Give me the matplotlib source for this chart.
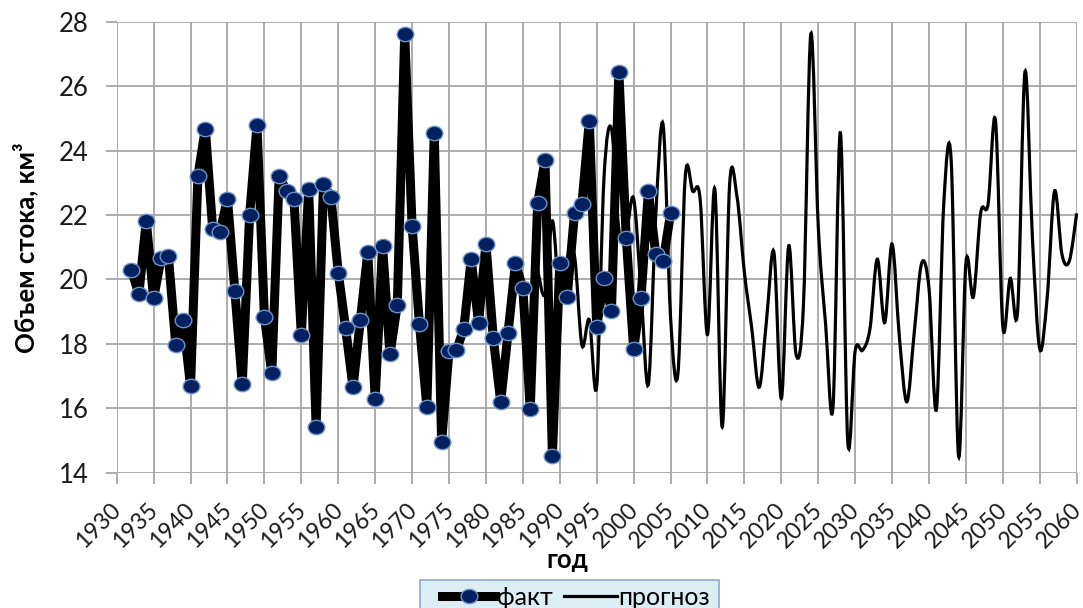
import matplotlib
matplotlib.use("Agg")
import matplotlib.pyplot as plt
from matplotlib.path import Path
from matplotlib.patches import PathPatch, Rectangle
from matplotlib.lines import Line2D
from matplotlib.textpath import TextPath
import matplotlib.transforms as mtransforms
import numpy as np

plt.rcParams['font.family'] = ['Lato', 'Noto Sans', 'DejaVu Sans']

# ---- data ----
fact_years = list(range(1932, 2006))
fact_values = [20.29, 19.54, 21.82, 19.41, 20.65, 20.72, 17.96, 18.74, 16.69, 23.21,
               24.68, 21.55, 21.46, 22.51, 19.64, 16.75, 22.00, 24.79, 18.84, 17.08,
               23.21, 22.74, 22.51, 18.29, 22.80, 15.42, 22.95, 22.57, 20.21, 18.48,
               16.65, 18.74, 20.84, 16.30, 21.04, 17.67, 19.22, 27.62, 21.66, 18.61,
               16.04, 24.55, 14.96, 17.78, 17.80, 18.46, 20.63, 18.66, 21.10, 18.17,
               16.20, 18.35, 20.50, 19.72, 15.97, 22.36, 23.70, 14.52, 20.52, 19.46,
               22.07, 22.34, 24.93, 18.53, 20.03, 19.03, 26.45, 21.30, 17.84, 19.43,
               22.74, 20.78, 20.57, 22.05]

forecast_years = list(range(1987, 2061))
forecast_values = [20.29, 19.54, 21.82, 19.41, 20.65, 20.72, 17.96, 18.74, 16.69, 23.21,
                   24.68, 21.55, 21.46, 22.51, 19.64, 16.75, 22.00, 24.79, 18.84, 17.08,
                   23.21, 22.74, 22.51, 18.29, 22.80, 15.42, 22.95, 22.57, 20.21, 18.48,
                   16.65, 18.74, 20.84, 16.30, 21.04, 17.67, 19.22, 27.62, 21.66, 18.61,
                   16.04, 24.55, 14.96, 17.78, 17.80, 18.46, 20.63, 18.66, 21.10, 18.17,
                   16.20, 18.35, 20.50, 19.72, 15.97, 22.36, 23.70, 14.52, 20.52, 19.46,
                   22.07, 22.34, 24.93, 18.53, 20.03, 19.03, 26.45, 21.30, 17.84, 19.43,
                   22.74, 20.78, 20.57, 22.05]

x_ticks = list(range(1930, 2061, 5))
y_ticks = [14, 16, 18, 20, 22, 24, 26, 28]

W, H = 1083, 608
DPI = 100
fig = plt.figure(figsize=(W / DPI, H / DPI), dpi=DPI)
ax = fig.add_axes([116.7 / W, 1 - 472.7 / H, 960 / W, 451 / H])
ax.set_xlim(1930, 2060)
ax.set_ylim(14, 28)

grid_c = '#a6a6a6'
ax.set_xticks(x_ticks)
ax.set_xticklabels([str(t) for t in x_ticks])
ax.set_yticks(y_ticks)
ax.grid(True, color=grid_c, linewidth=1.3, zorder=0)
for s in ax.spines.values():
    s.set_visible(False)
ax.tick_params(axis='both', color=grid_c, width=1.3, length=8, labelcolor='#1a1a1a')
ax.tick_params(axis='y', pad=12, labelsize=18.5)

# fact series: thick line
ax.plot(fact_years, fact_values, color='black', linewidth=6.5,
        solid_joinstyle='round', zorder=3, clip_on=False)

# forecast smoothed line (Bezier through data points, Excel-style smoothing)
fx = np.asarray(forecast_years, dtype=float)
fy = np.asarray(forecast_values, dtype=float)
verts = [(fx[0], fy[0])]
codes = [Path.MOVETO]
n = len(fx)
for i in range(n - 1):
    p0 = (fx[max(i - 1, 0)], fy[max(i - 1, 0)])
    p1 = (fx[i], fy[i])
    p2 = (fx[i + 1], fy[i + 1])
    p3 = (fx[min(i + 2, n - 1)], fy[min(i + 2, n - 1)])
    c1 = (p1[0] + (p2[0] - p0[0]) / 6, p1[1] + (p2[1] - p0[1]) / 6)
    c2 = (p2[0] - (p3[0] - p1[0]) / 6, p2[1] - (p3[1] - p1[1]) / 6)
    verts += [c1, c2, p2]
    codes += [Path.CURVE4] * 3
ax.add_patch(PathPatch(Path(verts, codes), facecolor='none', edgecolor='black',
                       linewidth=2.3, zorder=4, clip_on=False))

# markers
ell = Path.unit_circle()
ell = Path(ell.vertices * np.array([1.0, 0.86]), ell.codes)
ax.plot(fact_years, fact_values, linestyle='none', marker=ell, markersize=12,
        markerfacecolor='#032160', markeredgecolor='#6f93c8', markeredgewidth=1.0,
        zorder=5, clip_on=False)

fig.text(25 / W, 1 - 248 / H, 'Объем стока, км³', rotation=90, fontsize=18.5,
         fontweight='bold', ha='center', va='center')
fig.text(567 / W, 1 - 560 / H, 'год', fontsize=18.5, fontweight='bold',
         ha='center', va='center')

# legend frame
fig.patches.append(Rectangle((420 / W, 1 - 640 / H), 299 / W, 60 / H,
                             transform=fig.transFigure, facecolor='#dbeef4',
                             edgecolor='#8eaacc', linewidth=1.2, zorder=1))

h1 = Line2D([], [], color='black', linewidth=6.5, marker=ell, markersize=12,
            markerfacecolor='#032160', markeredgecolor='#6f93c8', markeredgewidth=1.0)
h2 = Line2D([], [], color='black', linewidth=2.3)
leg = fig.legend([h1, h2], ['факт', 'прогноз'], loc='upper left',
                 bbox_to_anchor=(441.7 / W, 1 - 586 / H), borderaxespad=0, ncol=2,
                 fontsize=18, frameon=False, handlelength=2.15, handletextpad=0.05,
                 columnspacing=0.45, borderpad=0)
leg.set_zorder(2)

# --- rotated x tick labels: size and place by glyph ink to match the reference ---
fig.canvas.draw()
rend = fig.canvas.get_renderer()
xlabels = ax.get_xticklabels()
sample = xlabels[0].get_text()
px_per_pt = DPI / 72.0


def ink_extents(size):
    prop = xlabels[0].get_fontproperties().copy()
    prop.set_size(size)
    w_px, _, _ = rend.get_text_width_height_descent(sample, prop, ismath=False)
    tp = TextPath((0, 0), sample, prop=prop)
    tr = mtransforms.Affine2D().scale(px_per_pt).translate(-w_px, 0).rotate_deg(45)
    return tp.transformed(tr).get_extents()


ext = ink_extents(10.0)
fs = 10.0 * 42.0 / ext.width          # horizontal ink extent of a label ~42 px
ext = ink_extents(fs)
dx = 2.5 - ext.x1                     # rightmost ink just right of the tick
dy = -30.0 - ext.y1                   # topmost ink ~30 px below the axis line
for lab in xlabels:
    lab.set_fontsize(fs)
    lab.set_rotation(45)
    lab.set_ha('right')
    lab.set_va('baseline')
    lab.set_rotation_mode('anchor')
    lab.set_transform(ax.get_xaxis_transform() + mtransforms.Affine2D().translate(dx, dy))

fig.savefig('out.png', dpi=DPI)
